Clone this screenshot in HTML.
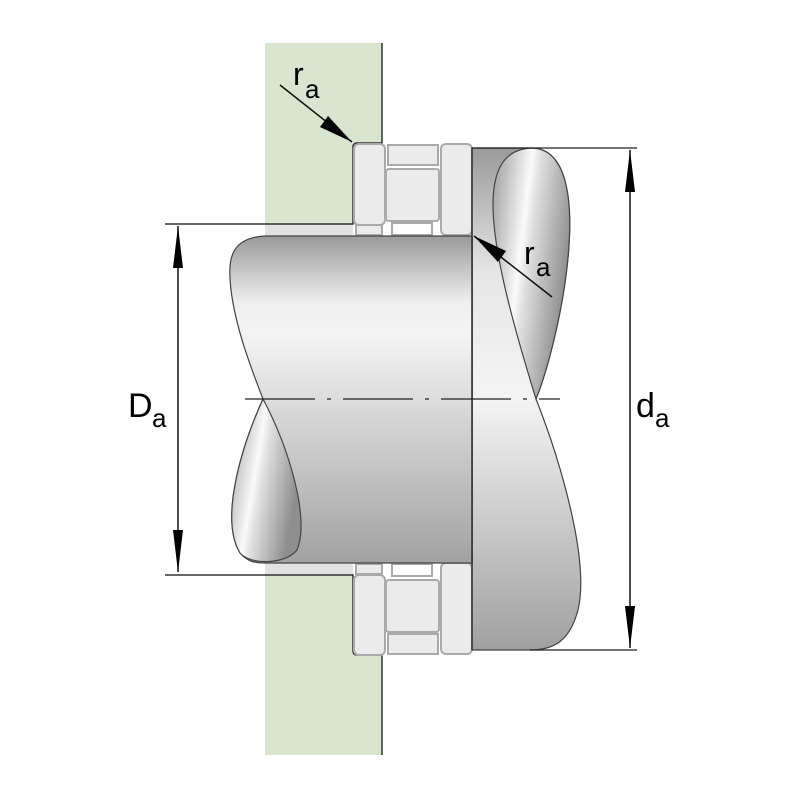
<!DOCTYPE html>
<html><head><style>body{margin:0;background:#fff}svg{display:block}</style></head><body>
<svg width="800" height="800" viewBox="0 0 800 800" xmlns="http://www.w3.org/2000/svg" font-family="Liberation Sans, sans-serif">
<defs>
<linearGradient id="cyl" x1="0" y1="0" x2="0" y2="1">
<stop offset="0" stop-color="#9a9a9a"/><stop offset="0.2" stop-color="#eeeeee"/><stop offset="0.3" stop-color="#f4f4f4"/><stop offset="1" stop-color="#a2a2a2"/></linearGradient>
<linearGradient id="sh" x1="0" y1="0" x2="0" y2="1">
<stop offset="0" stop-color="#9a9a9a"/><stop offset="0.25" stop-color="#e6e6e6"/><stop offset="0.5" stop-color="#f4f4f4"/><stop offset="1" stop-color="#a0a0a0"/></linearGradient>
<linearGradient id="tear" x1="0" y1="0" x2="1" y2="0.4">
<stop offset="0" stop-color="#9a9a9a"/><stop offset="0.45" stop-color="#fafafa"/><stop offset="0.55" stop-color="#e0e0e0"/><stop offset="1" stop-color="#8e8e8e"/></linearGradient>
</defs>
<path d="M265 43 H382 V143 H353 V224 H265 Z" fill="#d9e5cf"/>
<path d="M265 575 H353 V655 H382 V755 H265 Z" fill="#d9e5cf"/>
<rect x="265" y="224" width="88" height="12" fill="#e2e2e2"/>
<rect x="265" y="563" width="88" height="12" fill="#e2e2e2"/>
<path d="M382 43 V143 H357 Q353 143 353 147 V224 H165" fill="none" stroke="#333" stroke-width="1.5"/>
<path d="M382 755 V655 H357 Q353 655 353 651 V575 H165" fill="none" stroke="#333" stroke-width="1.5"/>
<g fill="#ebebeb" stroke="#aaa" stroke-width="2">
<rect x="354" y="144" width="31" height="81" rx="5"/>
<rect x="441" y="144" width="31" height="91" rx="5"/>
<rect x="388" y="145" width="50" height="20"/>
<rect x="386" y="169" width="53" height="52" rx="3"/>
<rect x="392" y="223" width="40" height="12" fill="#fff"/>
<rect x="356" y="225" width="26" height="10"/>
<rect x="354" y="575" width="31" height="80" rx="5"/>
<rect x="441" y="563" width="31" height="91" rx="5"/>
<rect x="388" y="634" width="50" height="20"/>
<rect x="386" y="580" width="53" height="52" rx="3"/>
<rect x="392" y="564" width="40" height="12" fill="#fff"/>
<rect x="356" y="564" width="26" height="10"/>
</g>
<path d="M472 148 H532 C600 150 560 340 536 399 C560 460 590 560 578 610 C570 640 555 650 530 650 H472 Z" fill="url(#sh)" stroke="#444" stroke-width="1.2"/>
<path d="M532 148 C470 150 490 250 536 399 C560 340 600 150 532 148 Z" fill="url(#tear)" stroke="#444" stroke-width="1.2"/>
<line x1="472" y1="148" x2="472" y2="650" stroke="#333" stroke-width="1.5"/>
<path d="M472 236 H265 C228 238 228 262 231 290 C236 330 252 370 263 399 C240 450 220 520 240 553 C248 562 255 563 265 563 H472 Z" fill="url(#cyl)" stroke="#444" stroke-width="1.2"/>
<path d="M263 399 C240 450 220 520 240 553 C250 565 285 565 297 550 C310 520 290 450 263 399 Z" fill="url(#tear)" stroke="#444" stroke-width="1.2"/>
<line x1="472" y1="236" x2="472" y2="563" stroke="#333" stroke-width="1.5"/>
<line x1="472" y1="148" x2="637" y2="148" stroke="#222" stroke-width="1.3"/>
<line x1="530" y1="650" x2="637" y2="650" stroke="#222" stroke-width="1.3"/>
<line x1="245" y1="399" x2="560" y2="399" stroke="#222" stroke-width="1.3" stroke-dasharray="70,12,4,12"/>
<line x1="178" y1="226" x2="178" y2="572" stroke="#111" stroke-width="1.5"/>
<path d="M178 226 L173 268 H183 Z M178 572 L173 530 H183 Z" fill="#000"/>
<line x1="630" y1="150" x2="630" y2="648" stroke="#111" stroke-width="1.5"/>
<path d="M630 150 L625 192 H635 Z M630 648 L625 606 H635 Z" fill="#000"/>
<line x1="280" y1="85" x2="352" y2="142" stroke="#111" stroke-width="1.5"/>
<path d="M352 142 L320 127 L328 116 Z" fill="#000"/>
<line x1="474" y1="236" x2="552" y2="297" stroke="#111" stroke-width="1.5"/>
<path d="M474 236 L506 251 L498 262 Z" fill="#000"/>
<text x="293" y="85" font-size="32">r</text><text x="305" y="98" font-size="26">a</text>
<text x="524" y="264" font-size="32">r</text><text x="536" y="276" font-size="26">a</text>
<text x="128" y="417" font-size="34">D</text><text x="152" y="427" font-size="26">a</text>
<text x="636" y="417" font-size="34">d</text><text x="655" y="427" font-size="26">a</text>
</svg>
</body></html>
